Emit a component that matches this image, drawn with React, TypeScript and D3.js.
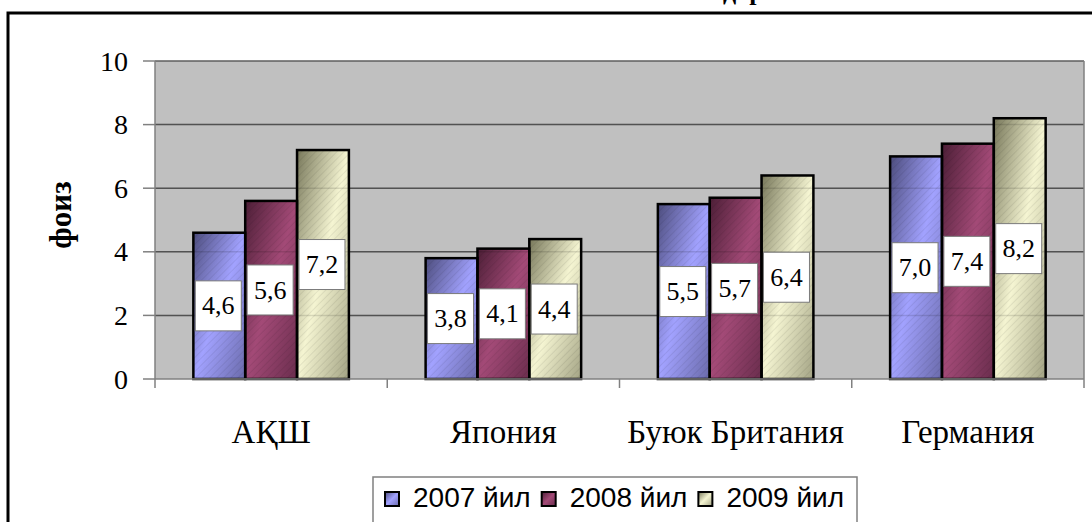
import React, { useEffect, useRef } from 'react';
import * as d3 from 'd3';

const categories = ['АҚШ', 'Япония', 'Буюк Британия', 'Германия'];
const years = ['2007 йил', '2008 йил', '2009 йил'];
const values2007 = [4.6, 3.8, 5.5, 7.0];
const values2008 = [5.6, 4.1, 5.7, 7.4];
const values2009 = [7.2, 4.4, 6.4, 8.2];
const yTicks = [0, 2, 4, 6, 8, 10];
const yLabel = 'фоиз';
const title = 'Ишсизлик даражаси';

const seriesColors = [
  { light: '#a2a2ff', dark: '#4c4c7c' },
  { light: '#a34a77', dark: '#4c1e36' },
  { light: '#f5f5d2', dark: '#77775a' },
];

const W = 1092;
const H = 522;
const serif = '"Liberation Serif", "Times New Roman", serif';
const sans = '"Liberation Sans", Arial, sans-serif';

export default function App() {
  const svgRef = useRef<SVGSVGElement>(null);

  useEffect(() => {
    if (!svgRef.current) return;
    const svg = d3.select(svgRef.current);
    svg.selectAll('*').remove();

    const series = [values2007, values2008, values2009];
    const plot = { left: 155, right: 1084, top: 61, bottom: 379 };

    const x0 = d3.scaleBand<string>().domain(categories).range([plot.left, plot.right]);
    const x1 = d3.scaleBand<string>().domain(years).range([0, x0.bandwidth()]).paddingOuter(0.74);
    const y = d3.scaleLinear().domain([0, 10]).range([plot.bottom, plot.top]);

    // Gradients + hatch texture
    const defs = svg.append('defs');
    seriesColors.forEach((c, i) => {
      const g = defs.append('linearGradient')
        .attr('id', `bar-grad-${i}`)
        .attr('x1', '0%').attr('y1', '0%')
        .attr('x2', '100%').attr('y2', '100%');
      g.append('stop').attr('offset', '0%').attr('stop-color', c.dark);
      g.append('stop').attr('offset', '50%').attr('stop-color', c.light);
      g.append('stop').attr('offset', '100%').attr('stop-color', d3.interpolateRgb(c.dark, c.light)(0.35));
    });
    const hatch = defs.append('pattern')
      .attr('id', 'hatch')
      .attr('patternUnits', 'userSpaceOnUse')
      .attr('width', 5).attr('height', 5)
      .attr('patternTransform', 'rotate(45)');
    hatch.append('line')
      .attr('x1', 0).attr('y1', 0).attr('x2', 0).attr('y2', 5)
      .attr('stroke', 'rgba(0,0,0,0.09)').attr('stroke-width', 1.5);

    svg.append('rect').attr('width', W).attr('height', H).attr('fill', '#fff');

    // Title (mostly above the visible area, as in the source)
    svg.append('text')
      .attr('x', 714).attr('y', 0)
      .attr('text-anchor', 'middle')
      .style('font-family', serif).style('font-size', '26px').style('font-weight', 'bold')
      .text(title);

    // Outer frame
    svg.append('rect')
      .attr('x', 8).attr('y', 13).attr('width', 1200).attr('height', 600)
      .attr('fill', 'none').attr('stroke', '#000').attr('stroke-width', 3);

    // Plot area
    svg.append('rect')
      .attr('x', plot.left).attr('y', plot.top)
      .attr('width', plot.right - plot.left).attr('height', plot.bottom - plot.top)
      .attr('fill', '#c0c0c0');

    const grid = svg.append('g');
    yTicks.filter(t => t > 0).forEach(t => {
      grid.append('line')
        .attr('x1', plot.left).attr('x2', plot.right)
        .attr('y1', y(t)).attr('y2', y(t))
        .attr('stroke', '#5e5e5e').attr('stroke-width', 1.5);
    });

    // Bars
    const bars = svg.append('g');
    categories.forEach((cat, ci) => {
      series.forEach((vals, si) => {
        const bx = (x0(cat) || 0) + (x1(years[si]) || 0);
        const bw = x1.bandwidth();
        const by = y(vals[ci]);
        const bh = plot.bottom - by;
        bars.append('rect')
          .attr('x', bx).attr('y', by).attr('width', bw).attr('height', bh)
          .attr('fill', `url(#bar-grad-${si})`);
        bars.append('rect')
          .attr('x', bx).attr('y', by).attr('width', bw).attr('height', bh)
          .attr('fill', 'url(#hatch)');
      });
    });

    // faint gridlines showing through the bars
    yTicks.filter(t => t > 0 && t < 10).forEach(t => {
      svg.append('line')
        .attr('x1', plot.left).attr('x2', plot.right)
        .attr('y1', y(t)).attr('y2', y(t))
        .attr('stroke', '#000').attr('stroke-opacity', 0.12).attr('stroke-width', 1.5);
    });

    categories.forEach((cat, ci) => {
      series.forEach((vals, si) => {
        const bx = (x0(cat) || 0) + (x1(years[si]) || 0);
        const by = y(vals[ci]);
        bars.append('rect')
          .attr('x', bx).attr('y', by).attr('width', x1.bandwidth()).attr('height', plot.bottom - by)
          .attr('fill', 'none').attr('stroke', '#000').attr('stroke-width', 2.5);
      });
    });

    // Axes
    const axis = svg.append('g').attr('stroke', '#808080').attr('stroke-width', 1.5);
    axis.append('line')
      .attr('x1', plot.right).attr('x2', plot.right)
      .attr('y1', plot.top).attr('y2', plot.bottom);
    axis.append('line')
      .attr('x1', plot.left).attr('x2', plot.left)
      .attr('y1', plot.top).attr('y2', plot.bottom);
    axis.append('line')
      .attr('x1', plot.left).attr('x2', plot.right)
      .attr('y1', plot.bottom).attr('y2', plot.bottom);
    yTicks.forEach(t => {
      axis.append('line')
        .attr('x1', plot.left - 12).attr('x2', plot.left)
        .attr('y1', y(t)).attr('y2', y(t));
    });
    [...categories.map(c => x0(c) || 0), plot.right].forEach(px => {
      axis.append('line')
        .attr('x1', px).attr('x2', px)
        .attr('y1', plot.bottom).attr('y2', plot.bottom + 9);
    });

    svg.append('g').selectAll('text')
      .data(yTicks)
      .join('text')
      .attr('x', 128)
      .attr('y', d => y(d))
      .attr('dy', '0.34em')
      .attr('text-anchor', 'end')
      .style('font-family', serif).style('font-size', '28px')
      .text(d => d3.format('d')(d));

    svg.append('g').selectAll('text')
      .data(categories)
      .join('text')
      .attr('x', d => (x0(d) || 0) + x0.bandwidth() / 2)
      .attr('y', 443)
      .attr('text-anchor', 'middle')
      .style('font-family', serif).style('font-size', '33px')
      .text(d => d);

    svg.append('text')
      .attr('transform', 'translate(60,215) rotate(-90)')
      .attr('text-anchor', 'middle')
      .attr('dy', '0.35em')
      .style('font-family', serif).style('font-size', '31px').style('font-weight', 'bold')
      .text(yLabel);

    // Data labels
    const fmt = (v: number) => v.toFixed(1).replace('.', ',');
    const labels = svg.append('g');
    categories.forEach((cat, ci) => {
      series.forEach((vals, si) => {
        const cx = (x0(cat) || 0) + (x1(years[si]) || 0) + x1.bandwidth() / 2 - 1;
        const cy = y(vals[ci] / 2);
        labels.append('rect')
          .attr('x', cx - 23).attr('y', cy - 25).attr('width', 46).attr('height', 50)
          .attr('fill', '#fff').attr('stroke', '#7a7a7a').attr('stroke-width', 1);
        labels.append('text')
          .attr('x', cx).attr('y', cy)
          .attr('dy', '0.33em')
          .attr('text-anchor', 'middle')
          .style('font-family', serif).style('font-size', '26px')
          .text(fmt(vals[ci]));
      });
    });

    // Legend
    const legend = svg.append('g');
    legend.append('rect')
      .attr('x', 373).attr('y', 477).attr('width', 484).attr('height', 70)
      .attr('fill', '#fff').attr('stroke', '#808080').attr('stroke-width', 1.5);
    let lx = 385;
    years.forEach((yr, i) => {
      legend.append('rect')
        .attr('x', lx).attr('y', 492).attr('width', 14).attr('height', 14)
        .attr('fill', `url(#bar-grad-${i})`)
        .attr('stroke', '#000').attr('stroke-width', 2);
      const t = legend.append('text')
        .attr('x', lx + 28).attr('y', 507)
        .style('font-family', sans).style('font-size', '28px')
        .text(yr);
      const tw = (t.node() as SVGTextElement).getComputedTextLength();
      lx = lx + 28 + tw + 11;
    });
  }, []);

  return (
    <svg
      ref={svgRef}
      width={W}
      height={H}
      style={{ position: 'absolute', left: 0, top: 0, display: 'block' }}
    />
  );
}
